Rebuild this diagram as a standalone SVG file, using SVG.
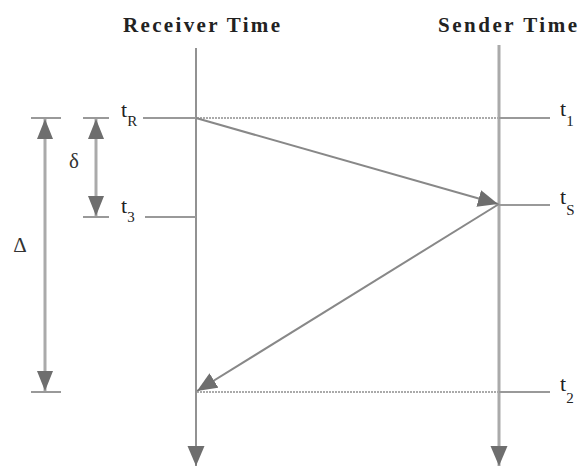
<svg xmlns="http://www.w3.org/2000/svg" width="580" height="466" viewBox="0 0 580 466">
<style>
.title{font-family:'Liberation Serif',serif;font-weight:bold;font-size:21px;fill:#222}
.lbl{font-family:'Liberation Serif',serif;font-size:22px;fill:#222}
.sub{font-size:15px}
.greek{font-family:'Liberation Serif',serif;font-size:21px;fill:#333}
.tick{stroke:#999;stroke-width:2;fill:none}
.dot{stroke:#aaa;stroke-width:2;stroke-dasharray:2 1;fill:none}
.msg{stroke:#888;stroke-width:2;fill:none}
.dim{stroke:#aaa;stroke-width:3;fill:none}
.head{fill:#6e6e6e}
</style>
<defs>
<marker id="ah" markerUnits="userSpaceOnUse" markerWidth="22" markerHeight="18" refX="20" refY="9" orient="auto">
<path d="M0,0.5 L20,9 L0,17.5 Z" class="head"/>
</marker>
<marker id="ahs" markerUnits="userSpaceOnUse" markerWidth="22" markerHeight="18" refX="20" refY="9" orient="auto-start-reverse">
<path d="M0,1 L20,9 L0,17 Z" class="head"/>
</marker>
</defs>

<g id="receiver">
<text class="title" x="123" y="32" textLength="157" lengthAdjust="spacing">Receiver Time</text>
<line x1="196" y1="48" x2="196" y2="466" stroke="#777" stroke-width="1.6" marker-end="url(#ah)"/>
</g>

<g id="sender">
<text class="title" x="438" y="32" textLength="139" lengthAdjust="spacing">Sender Time</text>
<line x1="499" y1="45" x2="499" y2="466" stroke="#aaa" stroke-width="3" marker-end="url(#ah)"/>
</g>

<g id="tR">
<line class="tick" x1="143" y1="118" x2="196" y2="118"/>
<text class="lbl" x="121" y="117">t<tspan class="sub" dy="9">R</tspan></text>
</g>
<g id="t3">
<line class="tick" x1="145" y1="217" x2="196" y2="217"/>
<text class="lbl" x="121" y="213">t<tspan class="sub" dy="9">3</tspan></text>
</g>
<g id="t1">
<line class="tick" x1="499" y1="118" x2="550" y2="118"/>
<text class="lbl" x="560" y="116">t<tspan class="sub" dy="10">1</tspan></text>
</g>
<g id="tS">
<line class="tick" x1="499" y1="205" x2="550" y2="205"/>
<text class="lbl" x="560" y="204">t<tspan class="sub" dy="11">S</tspan></text>
</g>
<g id="t2">
<line class="tick" x1="499" y1="392" x2="550" y2="392"/>
<text class="lbl" x="560" y="391">t<tspan class="sub" dy="12">2</tspan></text>
</g>

<g id="delta-small">
<line class="tick" x1="83" y1="118" x2="109" y2="118"/>
<line class="tick" x1="83" y1="217" x2="109" y2="217"/>
<line class="dim" x1="96" y1="119" x2="96" y2="216" marker-start="url(#ahs)" marker-end="url(#ahs)"/>
<text class="greek" x="74" y="168" text-anchor="middle">δ</text>
</g>

<g id="delta-big">
<line class="tick" x1="31" y1="118" x2="61" y2="118"/>
<line class="tick" x1="31" y1="392" x2="61" y2="392"/>
<line class="dim" x1="45" y1="119" x2="45" y2="391" marker-start="url(#ahs)" marker-end="url(#ahs)"/>
<text class="greek" x="20" y="252" text-anchor="middle">Δ</text>
</g>

<g id="connectors">
<line class="dot" x1="197" y1="118" x2="499" y2="118"/>
<line class="dot" x1="197" y1="392" x2="499" y2="392"/>
<line class="msg" x1="196" y1="118" x2="498" y2="204" marker-end="url(#ah)"/>
<line class="msg" x1="499" y1="204" x2="197" y2="391" marker-end="url(#ah)"/>
</g>
</svg>
